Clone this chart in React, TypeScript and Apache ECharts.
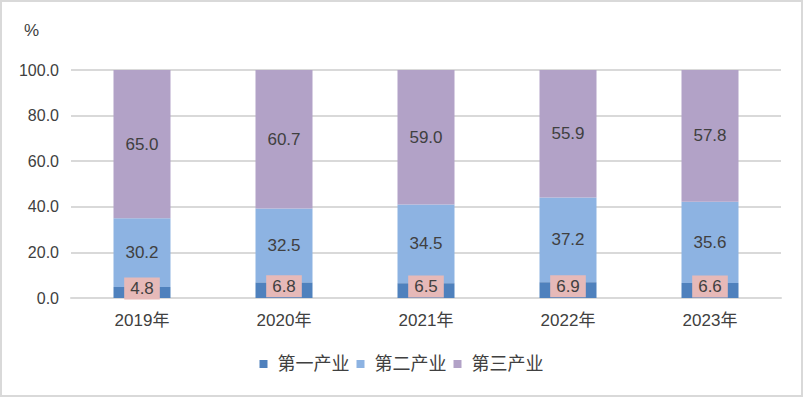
import React, { useEffect, useRef } from "react";
import * as echarts from "echarts";

const categories = ["2019年", "2020年", "2021年", "2022年", "2023年"];
const primary = [4.8, 6.8, 6.5, 6.9, 6.6];
const secondary = [30.2, 32.5, 34.5, 37.2, 35.6];
const tertiary = [65.0, 60.7, 59.0, 55.9, 57.8];
const seriesNames = ["第一产业", "第二产业", "第三产业"];
const unitLabel = "%";

const FONT = "'Liberation Sans', 'Noto Sans CJK SC', sans-serif";
const TXT = "#404040";

export default function App() {
  const ref = useRef<HTMLDivElement>(null);
  useEffect(() => {
    document.body.style.margin = "0";
    const chart = echarts.init(ref.current!, undefined, { renderer: "svg" });
    const fmt = (p: any) => Number(p.value).toFixed(1);
    chart.setOption({
      animation: false,
      backgroundColor: "#fff",
      textStyle: { fontFamily: FONT },
      graphic: [
        {
          type: "rect",
          shape: { x: 1, y: 1, width: 801, height: 395 },
          style: { fill: "none", stroke: "#D9D9D9", lineWidth: 2 },
          silent: true,
        },
        {
          type: "text",
          x: 24,
          y: 22,
          style: { text: unitLabel, fontSize: 17, fill: TXT, fontFamily: FONT },
          silent: true,
        },
      ],
      legend: {
        bottom: 19,
        left: "center",
        itemWidth: 8,
        itemHeight: 8,
        itemGap: 7,
        icon: "rect",
        textStyle: { fontSize: 18, color: TXT, fontFamily: FONT, padding: [0, 0, 0, 5] },
        data: seriesNames,
      },
      grid: { left: 71, right: 22, top: 70, bottom: 99 },
      xAxis: {
        type: "category",
        data: categories,
        axisLine: { show: true, lineStyle: { color: "#D9D9D9", width: 2 } },
        axisTick: { show: false },
        axisLabel: { fontSize: 17, color: TXT, margin: 14, fontFamily: FONT },
      },
      yAxis: {
        type: "value",
        min: 0,
        max: 100,
        interval: 20,
        axisLine: { show: false },
        axisTick: { show: false },
        axisLabel: {
          fontSize: 16,
          color: TXT,
          margin: 12,
          formatter: (v: number) => v.toFixed(1),
        },
        splitLine: { lineStyle: { color: "#D9D9D9", width: 2 } },
      },
      series: [
        {
          name: seriesNames[0],
          type: "bar",
          stack: "total",
          barWidth: 57,
          data: primary,
          itemStyle: { color: "#4F81BD" },
          label: {
            show: true,
            position: "inside",
            offset: [0, -4],
            formatter: fmt,
            fontSize: 17,
            color: TXT,
            backgroundColor: "#E6B9B8",
            padding: [3, 6, 2, 6],
            fontFamily: FONT,
          },
          z: 3,
        },
        {
          name: seriesNames[1],
          type: "bar",
          stack: "total",
          barWidth: 57,
          data: secondary,
          itemStyle: { color: "#8DB3E2" },
          label: { show: true, position: "inside", formatter: fmt, fontSize: 17, color: TXT, fontFamily: FONT },
          z: 2,
        },
        {
          name: seriesNames[2],
          type: "bar",
          stack: "total",
          barWidth: 57,
          data: tertiary,
          itemStyle: { color: "#B2A2C7" },
          label: { show: true, position: "inside", formatter: fmt, fontSize: 17, color: TXT, fontFamily: FONT },
          z: 2,
        },
      ],
    });
    return () => chart.dispose();
  }, []);
  return <div ref={ref} style={{ width: 803, height: 397 }} />;
}
